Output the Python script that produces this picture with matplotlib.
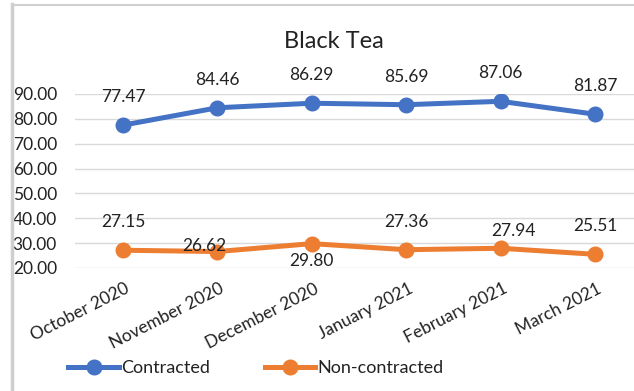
import matplotlib.pyplot as plt
import matplotlib.transforms as mtransforms
from matplotlib.lines import Line2D

# Data
months = ["October 2020", "November 2020", "December 2020",
          "January 2021", "February 2021", "March 2021"]
contracted = [77.47, 84.46, 86.29, 85.69, 87.06, 81.87]
non_contracted = [27.15, 26.62, 29.80, 27.36, 27.94, 25.51]

blue = "#4472C4"
orange = "#ED7D31"
plt.rcParams['font.family'] = ['Lato', 'DejaVu Sans']

W, H = 634, 391
fig = plt.figure(figsize=(W / 100, H / 100), dpi=100)

# plot area: 20 gridline at y=268px, 90 gridline at y=94px, left at x=75px, runs off right edge
ax = fig.add_axes([75 / W, 1 - 268 / H, 1 - 75 / W, 174 / H])
x = list(range(len(months)))
px = 94.4  # px per category
ax.set_xlim(-48 / px, 5 + 39 / px)
ax.set_ylim(20, 90)

ax.plot(x, contracted, color=blue, lw=3.6, marker='o', ms=10.5, zorder=3)
ax.plot(x, non_contracted, color=orange, lw=3.6, marker='o', ms=10.5, zorder=3)

ax.set_yticks(range(20, 91, 10))
ax.set_yticklabels([f"{v:.2f}" for v in range(20, 91, 10)])
ax.grid(True, axis='y', color='#d9d9d9', lw=1.0)
ax.set_axisbelow(True)
for s in ax.spines.values():
    s.set_visible(False)
ax.tick_params(axis='y', length=0, pad=13, labelsize=12.5, colors='#222222')
ax.tick_params(axis='x', length=0, pad=4, labelsize=12.5, colors='#222222')
ax.set_xticks(x)
ax.set_xticklabels(months, rotation=27, ha='right', rotation_mode='anchor')
shift = mtransforms.ScaledTranslation(0.02, -0.07, fig.dpi_scale_trans)
for lbl in ax.get_xticklabels():
    lbl.set_transform(lbl.get_transform() + shift)

# label offsets in pixels (dx, dy)
c_off = [(0, 28)] * 6
n_off = [(0, 28), (-13, 6), (0, -17), (0, 28), (13, 17), (0, 28)]
to_pt = 72 / 100
for i, v in enumerate(contracted):
    dx, dy = c_off[i]
    ax.annotate(f"{v:.2f}", (x[i], v), xytext=(dx * to_pt, dy * to_pt),
                textcoords='offset points', ha='center', va='center',
                fontsize=12.5, color='#222222', annotation_clip=False)
for i, v in enumerate(non_contracted):
    dx, dy = n_off[i]
    ax.annotate(f"{v:.2f}", (x[i], v), xytext=(dx * to_pt, dy * to_pt),
                textcoords='offset points', ha='center', va='center',
                fontsize=12.5, color='#222222', annotation_clip=False)

fig.text(334 / W, 1 - 42 / H, "Black Tea", ha='center', va='center',
         fontsize=17, color='#222222')

handles = [Line2D([], [], color=blue, lw=3.6, marker='o', ms=10.5),
           Line2D([], [], color=orange, lw=3.6, marker='o', ms=10.5)]
fig.legend(handles, ["Contracted", "Non-contracted"], loc='center left',
           bbox_to_anchor=(52 / W, 1 - 368 / H), ncol=2, frameon=False,
           fontsize=13, handlelength=2.8, handletextpad=0.15,
           columnspacing=3.0, labelcolor='#222222')

# chart frame lines (left and top)
fig.add_artist(Line2D([11.5 / W, 11.5 / W], [0, 1 - 4 / H], color='#cfcfcf', lw=2.5))
fig.add_artist(Line2D([11.5 / W, 1], [1 - 4.5 / H, 1 - 4.5 / H], color='#d0d0d0', lw=1.5))

fig.savefig("out.png", dpi=100)
